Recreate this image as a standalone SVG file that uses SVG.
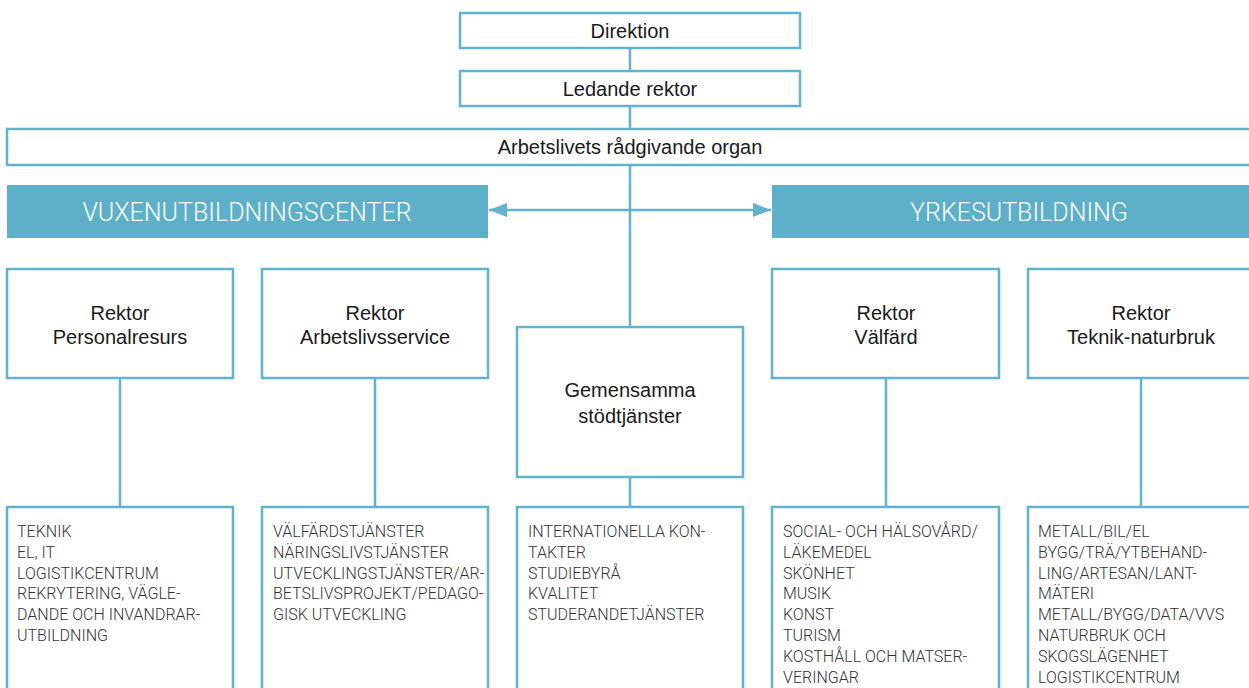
<svg xmlns="http://www.w3.org/2000/svg" width="1249" height="688" viewBox="0 0 1249 688">
<style>
  .box { fill: #ffffff; stroke: #62b2ce; stroke-width: 2.5; }
  .hdr { fill: #5eafca; }
  .con { stroke: #62b2ce; stroke-width: 2.5; fill: none; }
  .t { font-family: "Liberation Sans", Arial, sans-serif; font-size: 20px; fill: #1a1a1a; text-anchor: middle; }
  .h { font-family: Roboto, "Liberation Sans", sans-serif; font-weight: 300; font-size: 25px; fill: #ffffff; text-anchor: middle; }
  .l { font-family: Roboto, "Liberation Sans", sans-serif; font-weight: 300; font-size: 16px; fill: #333333; }
</style>
<defs>
  <marker id="arr" viewBox="0 0 18 14" refX="18" refY="7" markerWidth="18" markerHeight="14" markerUnits="userSpaceOnUse" orient="auto-start-reverse">
    <path d="M0,0 L18,7 L0,14 Z" fill="#62b2ce"/>
  </marker>
</defs>
<rect width="1249" height="688" fill="#ffffff"/>

<g id="connectors">
  <line class="con" x1="630" y1="48" x2="630" y2="71"/>
  <line class="con" x1="630" y1="106" x2="630" y2="129"/>
  <line class="con" x1="630" y1="165" x2="630" y2="327"/>
  <path class="con" d="M489,210 L771,210" marker-start="url(#arr)" marker-end="url(#arr)"/>
  <line class="con" x1="120" y1="378" x2="120" y2="507"/>
  <line class="con" x1="375" y1="378" x2="375" y2="507"/>
  <line class="con" x1="630" y1="477" x2="630" y2="507"/>
  <line class="con" x1="886" y1="378" x2="886" y2="507"/>
  <line class="con" x1="1141" y1="378" x2="1141" y2="507"/>
</g>

<g id="direktion">
  <rect class="box" x="460" y="13" width="340" height="35"/>
  <text class="t" x="630" y="38">Direktion</text>
</g>
<g id="ledande-rektor">
  <rect class="box" x="460" y="71" width="340" height="35"/>
  <text class="t" x="630" y="96">Ledande rektor</text>
</g>
<g id="arbetslivets-organ">
  <rect class="box" x="7" y="129" width="1250" height="36"/>
  <text class="t" x="630" y="154">Arbetslivets rådgivande organ</text>
</g>
<g id="vuxenutbildningscenter">
  <rect class="hdr" x="7" y="185" width="481" height="53"/>
  <text class="h" x="247" y="221">VUXENUTBILDNINGSCENTER</text>
</g>
<g id="yrkesutbildning">
  <rect class="hdr" x="772" y="185" width="485" height="53"/>
  <text class="h" x="1019" y="221">YRKESUTBILDNING</text>
</g>

<g id="rektor-personalresurs">
  <rect class="box" x="7" y="269" width="226" height="109"/>
  <text class="t" x="120" y="320">Rektor</text>
  <text class="t" x="120" y="344">Personalresurs</text>
</g>
<g id="rektor-arbetslivsservice">
  <rect class="box" x="262" y="269" width="226" height="109"/>
  <text class="t" x="375" y="320">Rektor</text>
  <text class="t" x="375" y="344">Arbetslivsservice</text>
</g>
<g id="gemensamma">
  <rect class="box" x="517" y="327" width="226" height="150"/>
  <text class="t" x="630" y="397">Gemensamma</text>
  <text class="t" x="630" y="423">stödtjänster</text>
</g>
<g id="rektor-valfard">
  <rect class="box" x="772" y="269" width="227" height="109"/>
  <text class="t" x="886" y="320">Rektor</text>
  <text class="t" x="886" y="344">Välfärd</text>
</g>
<g id="rektor-teknik">
  <rect class="box" x="1028" y="269" width="240" height="109"/>
  <text class="t" x="1141" y="320">Rektor</text>
  <text class="t" x="1141" y="344">Teknik-naturbruk</text>
</g>

<g id="lista-personalresurs">
  <rect class="box" x="7" y="507" width="226" height="200"/>
  <text class="l">
    <tspan x="17" y="537">TEKNIK</tspan>
    <tspan x="17" y="558">EL, IT</tspan>
    <tspan x="17" y="579">LOGISTIKCENTRUM</tspan>
    <tspan x="17" y="599">REKRYTERING, VÄGLE-</tspan>
    <tspan x="17" y="620">DANDE OCH INVANDRAR-</tspan>
    <tspan x="17" y="641">UTBILDNING</tspan>
  </text>
</g>
<g id="lista-arbetslivsservice">
  <rect class="box" x="262" y="507" width="226" height="200"/>
  <text class="l">
    <tspan x="273" y="537">VÄLFÄRDSTJÄNSTER</tspan>
    <tspan x="273" y="558">NÄRINGSLIVSTJÄNSTER</tspan>
    <tspan x="273" y="579">UTVECKLINGSTJÄNSTER/AR-</tspan>
    <tspan x="273" y="599">BETSLIVSPROJEKT/PEDAGO-</tspan>
    <tspan x="273" y="620">GISK UTVECKLING</tspan>
  </text>
</g>
<g id="lista-gemensamma">
  <rect class="box" x="517" y="507" width="226" height="200"/>
  <text class="l">
    <tspan x="528" y="537">INTERNATIONELLA KON-</tspan>
    <tspan x="528" y="558">TAKTER</tspan>
    <tspan x="528" y="579">STUDIEBYRÅ</tspan>
    <tspan x="528" y="599">KVALITET</tspan>
    <tspan x="528" y="620">STUDERANDETJÄNSTER</tspan>
  </text>
</g>
<g id="lista-valfard">
  <rect class="box" x="772" y="507" width="227" height="200"/>
  <text class="l">
    <tspan x="783" y="537">SOCIAL- OCH HÄLSOVÅRD/</tspan>
    <tspan x="783" y="558">LÄKEMEDEL</tspan>
    <tspan x="783" y="579">SKÖNHET</tspan>
    <tspan x="783" y="599">MUSIK</tspan>
    <tspan x="783" y="620">KONST</tspan>
    <tspan x="783" y="641">TURISM</tspan>
    <tspan x="783" y="662">KOSTHÅLL OCH MATSER-</tspan>
    <tspan x="783" y="683">VERINGAR</tspan>
  </text>
</g>
<g id="lista-teknik">
  <rect class="box" x="1028" y="507" width="240" height="200"/>
  <text class="l">
    <tspan x="1038" y="537">METALL/BIL/EL</tspan>
    <tspan x="1038" y="558">BYGG/TRÄ/YTBEHAND-</tspan>
    <tspan x="1038" y="579">LING/ARTESAN/LANT-</tspan>
    <tspan x="1038" y="599">MÄTERI</tspan>
    <tspan x="1038" y="620">METALL/BYGG/DATA/VVS</tspan>
    <tspan x="1038" y="641">NATURBRUK OCH</tspan>
    <tspan x="1038" y="662">SKOGSLÄGENHET</tspan>
    <tspan x="1038" y="683">LOGISTIKCENTRUM</tspan>
  </text>
</g>
</svg>
